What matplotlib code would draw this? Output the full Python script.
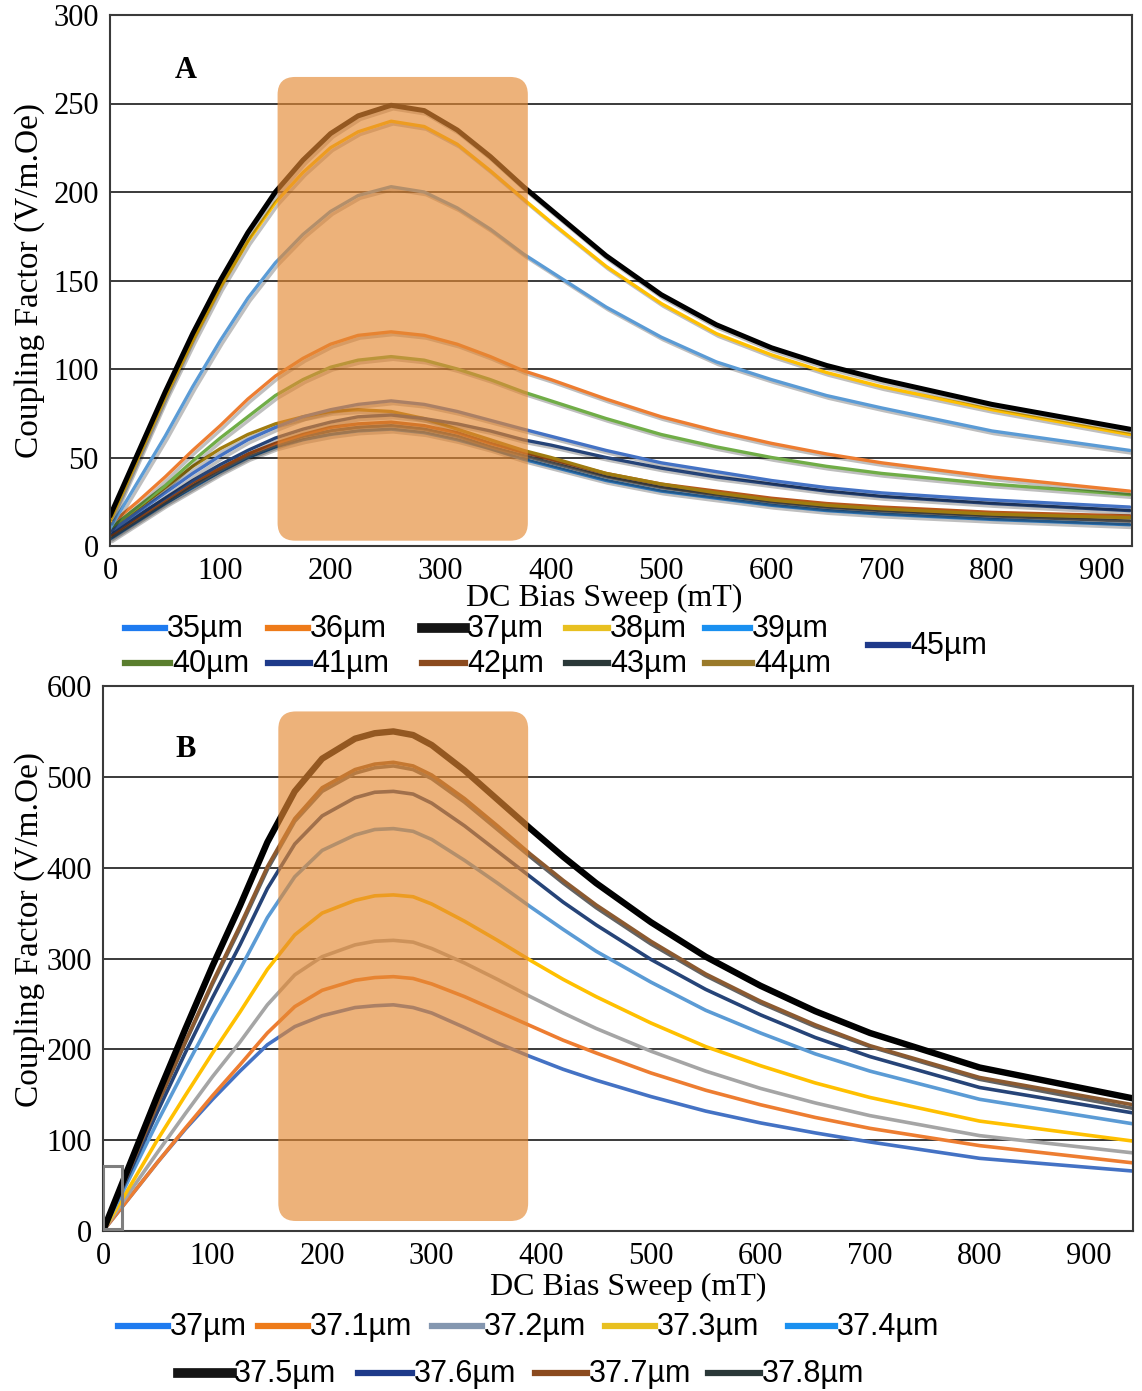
import matplotlib
matplotlib.use('Agg')
import matplotlib.pyplot as plt
import matplotlib.patheffects as pe
from matplotlib.lines import Line2D
from matplotlib.patches import FancyBboxPatch, Rectangle

# ---- data ----
# panel A: DC bias sweep (mT) vs coupling factor, thickness 35..45 um
x_a = [0, 25, 50, 75, 100, 125, 150, 175, 200, 225, 255, 285, 315, 345, 375, 400,
       450, 500, 550, 600, 650, 700, 800, 925]
a_35 = [4, 14, 24, 33, 42, 50, 56, 60, 63, 65, 66, 64, 60, 55, 49, 45, 37, 31, 27, 23, 20, 18, 15, 12]
a_36 = [12, 25, 39, 54, 68, 83, 96, 106, 114, 119, 121, 119, 114, 107, 99, 94, 83, 73, 65, 58, 52, 47, 39, 31]
a_37 = [17, 52, 87, 120, 150, 177, 200, 218, 233, 243, 249, 246, 235, 220, 203, 190, 164, 142, 125, 112, 102, 94, 80, 66]
a_38 = [14, 49, 84, 116, 146, 172, 194, 211, 225, 234, 240, 237, 227, 212, 196, 183, 158, 137, 120, 108, 98, 90, 77, 63]
a_39 = [10, 36, 62, 90, 116, 140, 160, 176, 189, 198, 203, 200, 191, 179, 165, 155, 135, 118, 104, 94, 85, 78, 65, 54]
a_40 = [10, 22, 34, 48, 61, 73, 85, 94, 101, 105, 107, 105, 100, 94, 87, 82, 72, 63, 56, 50, 45, 41, 35, 29]
a_41 = [8, 19, 30, 41, 51, 60, 67, 73, 77, 80, 82, 80, 76, 71, 66, 62, 54, 47, 42, 37, 33, 30, 26, 22]
a_42 = [6, 16, 26, 36, 44, 52, 58, 63, 67, 69, 70, 68, 64, 58, 53, 49, 41, 35, 31, 27, 24, 22, 19, 17]
a_43 = [5, 15, 25, 34, 43, 51, 57, 62, 65, 67, 68, 66, 62, 56, 51, 47, 39, 33, 29, 25, 22, 20, 17, 14]
a_44 = [9, 21, 33, 45, 55, 63, 69, 73, 76, 77, 76, 72, 66, 60, 54, 50, 41, 35, 30, 26, 23, 21, 18, 16]
a_45 = [7, 17, 27, 37, 46, 54, 61, 66, 70, 73, 74, 72, 69, 65, 60, 57, 50, 44, 39, 35, 31, 28, 24, 20]

# panel B: thickness 37.0..37.8 um
x_b = [0, 25, 50, 75, 100, 125, 150, 175, 200, 230, 248, 265, 283, 300, 330, 360, 390, 420,
       450, 500, 550, 600, 650, 700, 800, 940]
b_370 = [0, 38, 76, 112, 145, 176, 205, 225, 237, 246, 248, 249, 246, 240, 224, 207, 192, 178,
         166, 148, 132, 119, 108, 98, 80, 66]
b_371 = [0, 38, 76, 113, 149, 183, 218, 247, 265, 276, 279, 280, 278, 272, 258, 242, 226, 210,
         196, 174, 155, 139, 125, 113, 94, 75]
b_372 = [0, 44, 87, 129, 170, 208, 249, 282, 302, 315, 319, 320, 318, 311, 295, 277, 258, 240,
         223, 198, 176, 157, 141, 127, 105, 86]
b_373 = [0, 50, 101, 149, 196, 241, 288, 326, 350, 364, 369, 370, 368, 360, 341, 320, 298, 277,
         258, 229, 203, 182, 163, 147, 121, 99]
b_374 = [0, 60, 121, 179, 235, 288, 345, 390, 419, 436, 442, 443, 440, 431, 408, 383, 357, 332,
         308, 274, 243, 218, 195, 176, 145, 118]
b_375 = [0, 75, 150, 222, 292, 358, 428, 484, 520, 542, 548, 550, 546, 535, 507, 475, 443, 412,
         383, 340, 302, 270, 242, 218, 180, 146]
b_376 = [0, 66, 132, 196, 257, 315, 377, 426, 457, 477, 483, 484, 481, 471, 446, 418, 390, 362,
         337, 299, 266, 238, 213, 192, 158, 130]
b_377 = [0, 70, 141, 208, 274, 336, 401, 454, 488, 508, 514, 516, 512, 502, 476, 446, 415, 386,
         359, 319, 283, 253, 227, 204, 169, 139]
b_378 = [0, 70, 140, 207, 272, 333, 398, 451, 484, 504, 510, 512, 508, 498, 472, 442, 412, 383,
         356, 316, 281, 251, 225, 203, 167, 135]

labels_a = ['35µm', '36µm', '37µm', '38µm', '39µm', '40µm', '41µm', '42µm', '43µm', '44µm', '45µm']
labels_b = ['37µm', '37.1µm', '37.2µm', '37.3µm', '37.4µm', '37.5µm', '37.6µm', '37.7µm', '37.8µm']

# highlighted bias window (mT from, mT to, value from, value to)
box_a = (152, 379, 3, 265)
box_b = (160, 388, 11, 572)

# ---- styles ----
line_col_a = {'35µm': '#2E75B6', '36µm': '#ED7D31', '37µm': '#000000', '38µm': '#FFC000',
              '39µm': '#5B9BD5', '40µm': '#70AD47', '41µm': '#4472C4', '42µm': '#B8561A',
              '43µm': '#636363', '44µm': '#A07C10', '45µm': '#264478'}
leg_col_a = {'35µm': '#1E7BF0', '36µm': '#EE7B1A', '37µm': '#151515', '38µm': '#E8C020',
             '39µm': '#1A90F0', '40µm': '#5A7E2E', '41µm': '#1E3A8A', '42µm': '#8B4A1E',
             '43µm': '#2A3838', '44µm': '#9A7A2A', '45µm': '#1F3A8A'}
line_col_b = {'37µm': '#4472C4', '37.1µm': '#ED7D31', '37.2µm': '#A5A5A5', '37.3µm': '#FFC000',
              '37.4µm': '#5B9BD5', '37.5µm': '#000000', '37.6µm': '#264478', '37.7µm': '#8C5A30',
              '37.8µm': '#636363'}
leg_col_b = {'37µm': '#1E7BF0', '37.1µm': '#EE7B1A', '37.2µm': '#8497B0', '37.3µm': '#E8C020',
             '37.4µm': '#1A90F0', '37.5µm': '#151515', '37.6µm': '#1E3A8A', '37.7µm': '#8B4A1E',
             '37.8µm': '#2A3838'}

serif = 'Liberation Serif'
sans = 'Liberation Sans'

W, H = 1142, 1391
fig = plt.figure(figsize=(W / 100, H / 100), dpi=100)


def fx(px):
    return px / W


def fy(py):
    return 1 - py / H


axA = fig.add_axes([fx(110), fy(546), fx(1132) - fx(110), fy(15) - fy(546)])
axB = fig.add_axes([fx(103), fy(1231), fx(1133) - fx(103), fy(686) - fy(1231)])


def style(ax, xmax, ymax, ystep):
    ax.set_xlim(0, xmax)
    ax.set_ylim(0, ymax)
    ax.set_xticks(range(0, 901, 100))
    ax.set_yticks(range(0, ymax + 1, ystep))
    ax.grid(axis='y', color='#2b2b2b', lw=1.3)
    ax.set_axisbelow(True)
    ax.tick_params(length=0, labelsize=22, pad=8)
    for lab in ax.get_xticklabels() + ax.get_yticklabels():
        lab.set_family(serif)
    for s in ax.spines.values():
        s.set_color('#3a3a3a')
        s.set_linewidth(1.5)


style(axA, 927, 300, 50)
style(axB, 940, 600, 100)

# panel A lines, drawn bottom-up
series_a = {'35µm': a_35, '43µm': a_43, '42µm': a_42, '44µm': a_44, '45µm': a_45,
            '41µm': a_41, '40µm': a_40, '36µm': a_36, '39µm': a_39, '38µm': a_38, '37µm': a_37}
shadow = [pe.SimpleLineShadow(offset=(1.5, -2), shadow_color='black', alpha=0.25), pe.Normal()]
for name, vals in series_a.items():
    lw = 3.6 if name == '37µm' else 2.4
    axA.plot(x_a, vals, color=line_col_a[name], lw=lw, solid_joinstyle='round',
             solid_capstyle='round', path_effects=shadow, zorder=2)

series_b = {'37µm': b_370, '37.1µm': b_371, '37.2µm': b_372, '37.3µm': b_373, '37.4µm': b_374,
            '37.6µm': b_376, '37.8µm': b_378, '37.7µm': b_377, '37.5µm': b_375}
for name, vals in series_b.items():
    lw = 4.6 if name == '37.5µm' else 2.6
    axB.plot(x_b, vals, color=line_col_b[name], lw=lw, solid_joinstyle='round', zorder=2)

# orange highlight windows
for ax, (x0, x1, y0, y1), aspect in [(axA, box_a, 0.625), (axB, box_b, 1.22)]:
    patch = FancyBboxPatch((x0, y0), x1 - x0, y1 - y0,
                           boxstyle='round,pad=0,rounding_size=16', mutation_aspect=aspect,
                           facecolor='#E48933', edgecolor='none', alpha=0.65, zorder=3)
    ax.add_patch(patch)

# small grey frame left over at the start of panel B
axB.add_patch(Rectangle((0, 2), 17, 70, fill=False, edgecolor='#7f7f7f', lw=2.2, zorder=4))

axA.text(0.074, 0.895, 'A', transform=axA.transAxes, fontsize=22, family=serif,
         fontweight='bold', ha='center', va='center')
axB.text(0.08, 0.883, 'B', transform=axB.transAxes, fontsize=22, family=serif,
         fontweight='bold', ha='center', va='center')

for ax, lx, ly, xx, xy in [(axA, -0.064, 0.5, 0.484, -0.072), (axB, -0.056, 0.554, 0.51, -0.076)]:
    ax.set_ylabel('Coupling Factor (V/m.Oe)', fontsize=24, family=serif)
    ax.set_xlabel('DC Bias Sweep (mT)', fontsize=23, family=serif)
    ax.yaxis.set_label_coords(lx, ly)
    ax.xaxis.set_label_coords(xx, xy)

# ---- hand-placed legends (pixel layout: handle start, handle end, row y) ----
legend_a_layout = [
    (125, 165, 628), (268, 308, 628), (422, 465, 628), (566, 608, 628), (705, 750, 628),
    (125, 170, 663), (268, 310, 663), (422, 465, 663), (566, 608, 663), (705, 752, 663),
    (868, 908, 645),
]
legend_b_layout = [
    (118, 168, 1326), (258, 308, 1326), (432, 482, 1326), (605, 655, 1326), (788, 835, 1326),
    (178, 232, 1373), (358, 412, 1373), (535, 587, 1373), (708, 760, 1373),
]


def draw_legend(labels, layout, colors, thick):
    for name, (h0, h1, py) in zip(labels, layout):
        lw = 7.0 if name == thick else 4.5
        fig.add_artist(Line2D([fx(h0), fx(h1)], [fy(py), fy(py)], color=colors[name], lw=lw,
                              transform=fig.transFigure))
        fig.text(fx(h1 + 2), fy(py + 1), name, fontsize=22, family=sans, ha='left', va='center')


draw_legend(labels_a, legend_a_layout, leg_col_a, '37µm')
draw_legend(labels_b, legend_b_layout, leg_col_b, '37.5µm')

fig.savefig('out.png', dpi=100)
